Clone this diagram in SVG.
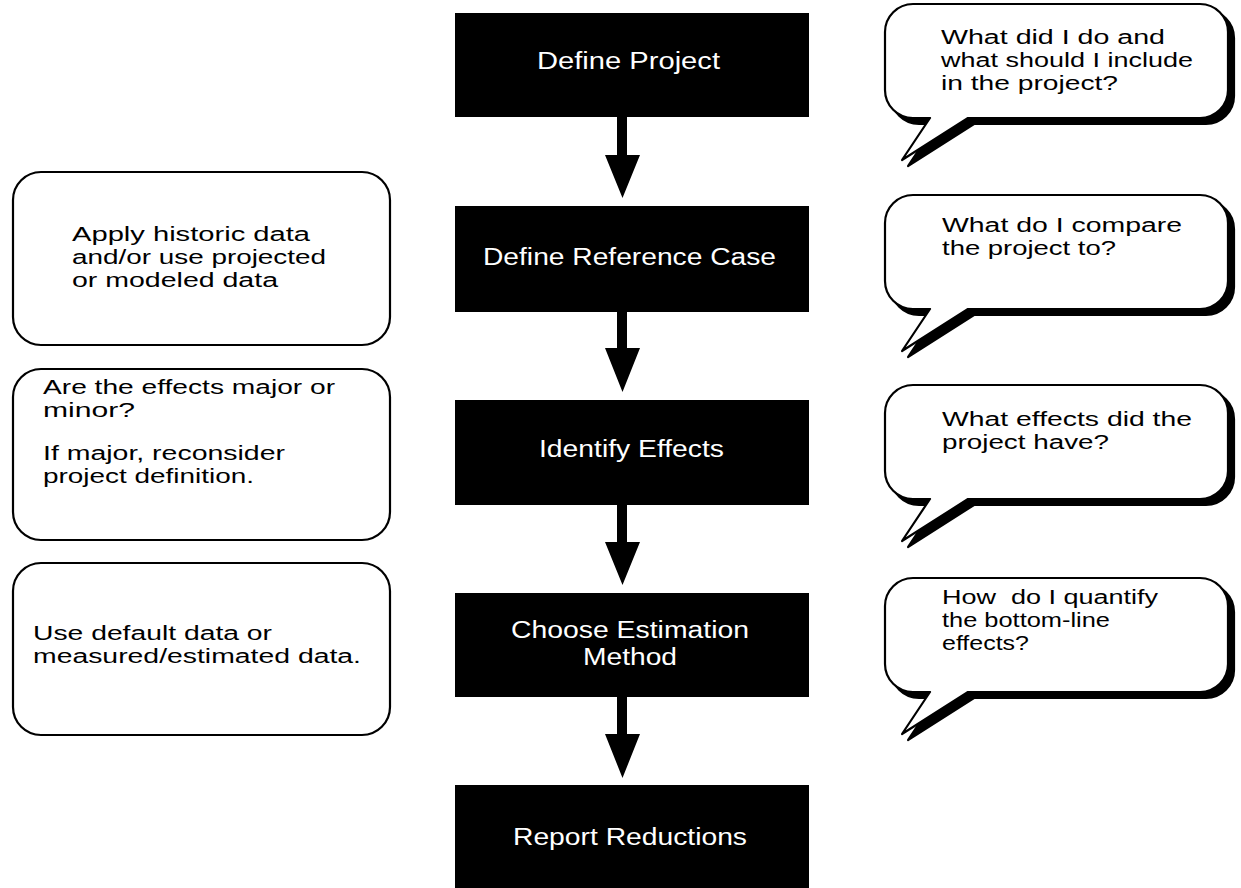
<svg xmlns="http://www.w3.org/2000/svg" xmlns:xlink="http://www.w3.org/1999/xlink" width="1241" height="888" viewBox="0 0 1241 888">
<style>
.step{fill:#000}
.stxt{fill:#fff;font-family:"Liberation Sans",Arial,sans-serif;font-size:23px}
.note{fill:#fff;stroke:#000;stroke-width:2.2}
.ntxt{fill:#000;font-family:"Liberation Sans",Arial,sans-serif;font-size:20px}
.bub{fill:#fff;stroke:#000;stroke-width:2.2;stroke-linejoin:round}
.shadow{fill:#000;stroke:#000;stroke-width:2.2;stroke-linejoin:round}
.arrow{fill:#000}
</style>
<defs>
<path id="bubble" d="M28,0 H315 A28,28 0 0 1 343,28 V86 A28,28 0 0 1 315,114 H83 L17,156 L45,114 H28 A28,28 0 0 1 0,86 V28 A28,28 0 0 1 28,0 Z"/>
</defs>
<rect width="1241" height="888" fill="#fff"/>

<g id="connectors">
<path class="arrow" d="M617,117 H627 V155 H640 L622.5,198 L605,155 H617 Z"/>
<path class="arrow" d="M617,312 H627 V348 H640 L622.5,392 L605,348 H617 Z"/>
<path class="arrow" d="M617,505 H627 V542 H640 L622.5,585 L605,542 H617 Z"/>
<path class="arrow" d="M617,697 H627 V734 H640 L622.5,778 L605,734 H617 Z"/>
</g>

<g id="step1"><rect class="step" x="455" y="13" width="354" height="104"/><text class="stxt" x="537" y="69" textLength="183" lengthAdjust="spacingAndGlyphs">Define Project</text></g>
<g id="step2"><rect class="step" x="455" y="206" width="354" height="106"/><text class="stxt" x="483" y="265" textLength="293" lengthAdjust="spacingAndGlyphs">Define Reference Case</text></g>
<g id="step3"><rect class="step" x="455" y="400" width="354" height="105"/><text class="stxt" x="539" y="457" textLength="185" lengthAdjust="spacingAndGlyphs">Identify Effects</text></g>
<g id="step4"><rect class="step" x="455" y="593" width="354" height="104"/><text class="stxt" x="511" y="638" textLength="238" lengthAdjust="spacingAndGlyphs">Choose Estimation</text><text class="stxt" x="583" y="665" textLength="94" lengthAdjust="spacingAndGlyphs">Method</text></g>
<g id="step5"><rect class="step" x="455" y="785" width="354" height="110"/><text class="stxt" x="513" y="845" textLength="234" lengthAdjust="spacingAndGlyphs">Report Reductions</text></g>

<g id="noteA"><rect class="note" x="13" y="172" width="377" height="173" rx="28"/>
<text class="ntxt" x="72" y="241" textLength="238" lengthAdjust="spacingAndGlyphs">Apply historic data</text>
<text class="ntxt" x="72" y="264" textLength="254" lengthAdjust="spacingAndGlyphs">and/or use projected</text>
<text class="ntxt" x="72" y="287" textLength="206" lengthAdjust="spacingAndGlyphs">or modeled data</text></g>
<g id="noteB"><rect class="note" x="13" y="369" width="377" height="171" rx="28"/>
<text class="ntxt" x="43" y="394" textLength="292" lengthAdjust="spacingAndGlyphs">Are the effects major or</text>
<text class="ntxt" x="43" y="417" textLength="92" lengthAdjust="spacingAndGlyphs">minor?</text>
<text class="ntxt" x="43" y="460" textLength="242" lengthAdjust="spacingAndGlyphs">If major, reconsider</text>
<text class="ntxt" x="43" y="483" textLength="211" lengthAdjust="spacingAndGlyphs">project definition.</text></g>
<g id="noteC"><rect class="note" x="13" y="563" width="377" height="172" rx="28"/>
<text class="ntxt" x="33" y="640" textLength="239" lengthAdjust="spacingAndGlyphs">Use default data or</text>
<text class="ntxt" x="33" y="663" textLength="328" lengthAdjust="spacingAndGlyphs">measured/estimated data.</text></g>

<g id="question1"><use href="#bubble" class="shadow" transform="translate(891,10)"/><use href="#bubble" class="bub" transform="translate(885,4)"/>
<text class="ntxt" x="941" y="44" textLength="224" lengthAdjust="spacingAndGlyphs">What did I do and</text>
<text class="ntxt" x="941" y="67" textLength="252" lengthAdjust="spacingAndGlyphs">what should I include</text>
<text class="ntxt" x="941" y="90" textLength="177" lengthAdjust="spacingAndGlyphs">in the project?</text></g>
<g id="question2"><use href="#bubble" class="shadow" transform="translate(891,201)"/><use href="#bubble" class="bub" transform="translate(885,195)"/>
<text class="ntxt" x="942" y="232" textLength="240" lengthAdjust="spacingAndGlyphs">What do I compare</text>
<text class="ntxt" x="942" y="255" textLength="174" lengthAdjust="spacingAndGlyphs">the project to?</text></g>
<g id="question3"><use href="#bubble" class="shadow" transform="translate(891,391)"/><use href="#bubble" class="bub" transform="translate(885,385)"/>
<text class="ntxt" x="942" y="426" textLength="250" lengthAdjust="spacingAndGlyphs">What effects did the</text>
<text class="ntxt" x="942" y="449" textLength="167" lengthAdjust="spacingAndGlyphs">project have?</text></g>
<g id="question4"><use href="#bubble" class="shadow" transform="translate(891,584)"/><use href="#bubble" class="bub" transform="translate(885,578)"/>
<text class="ntxt" x="942" y="604" xml:space="preserve" style="white-space:pre" textLength="216" lengthAdjust="spacingAndGlyphs">How  do I quantify</text>
<text class="ntxt" x="942" y="627" textLength="168" lengthAdjust="spacingAndGlyphs">the bottom-line</text>
<text class="ntxt" x="942" y="650" textLength="87" lengthAdjust="spacingAndGlyphs">effects?</text></g>
</svg>
